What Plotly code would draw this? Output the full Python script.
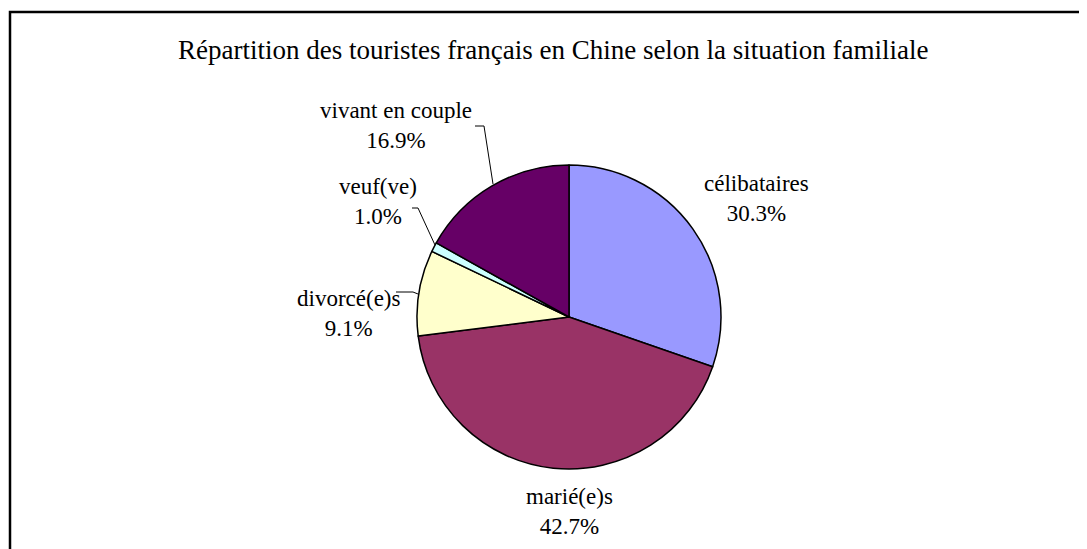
import plotly.graph_objects as go

W, H = 1087, 549
OFF = 8  # page body margin

labels = ["célibataires", "marié(e)s", "divorcé(e)s", "veuf(ve)", "vivant en couple"]
values = [30.3, 42.7, 9.1, 1.0, 16.9]
colors = ["#9999FF", "#993366", "#FFFFCC", "#CCFFFF", "#660066"]
title = "Répartition des touristes français en Chine selon la situation familiale"

# label placement (pixel centers) and leader lines (pixel polylines)
label_pos = {
    "célibataires": (756, 198),
    "marié(e)s": (569, 511),
    "divorcé(e)s": (348, 313),
    "veuf(ve)": (378, 201),
    "vivant en couple": (396, 125),
}
leaders = {
    "divorcé(e)s": [(396, 292), (413, 292), (418, 294)],
    "veuf(ve)": [(412, 208), (418, 208), (435, 245)],
    "vivant en couple": [(475, 126), (484, 126), (493, 184)],
}

def px(x):
    return (x - OFF) / W

def py(y):
    return 1 - (y - OFF) / H

cx, cy, r = 569, 317, 152

fig = go.Figure(go.Pie(
    labels=labels, values=values, sort=False, direction="clockwise", rotation=0,
    marker=dict(colors=colors, line=dict(color="black", width=1.5)),
    textinfo="none", hoverinfo="label+percent", showlegend=False,
    domain=dict(x=[px(cx - r), px(cx + r)], y=[py(cy + r), py(cy - r)]),
))

font = dict(family="Liberation Serif", size=23, color="black")
tfont = dict(family="Liberation Serif", size=27, color="black")

annotations = [dict(text=title, x=px(553), y=py(50), xref="paper", yref="paper",
                    showarrow=False, font=tfont, xanchor="center", yanchor="middle")]
total = sum(values)
for lab, v in zip(labels, values):
    x, y = label_pos[lab]
    annotations.append(dict(text=f"{lab}<br>{v / total * 100:.1f}%", x=px(x), y=py(y),
                            xref="paper", yref="paper", showarrow=False, font=font,
                            xanchor="center", yanchor="middle", align="center"))

shapes = [dict(type="rect", xref="paper", yref="paper", x0=px(10), y0=py(12),
               x1=px(W + 30), y1=py(H + 30), line=dict(color="black", width=2.5))]
for lab, pts in leaders.items():
    path = "M " + " L ".join(f"{px(x)},{py(y)}" for x, y in pts)
    shapes.append(dict(type="path", xref="paper", yref="paper", path=path,
                       line=dict(color="black", width=1)))

fig.update_layout(width=W, height=H, margin=dict(l=0, r=0, t=0, b=0),
                  paper_bgcolor="white", plot_bgcolor="white",
                  annotations=annotations, shapes=shapes)

fig.write_html("out.html")
